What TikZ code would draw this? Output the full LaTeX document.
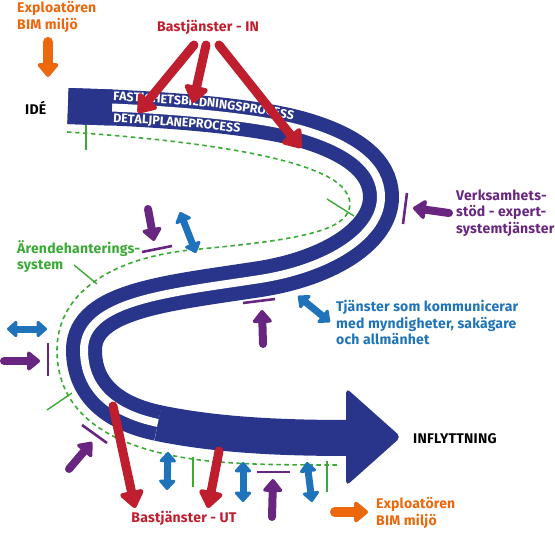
\documentclass[tikz,border=0pt]{standalone}
\usepackage{fontspec}
\setmainfont{Fira Sans}
\usetikzlibrary{arrows.meta,decorations.text}

\definecolor{bandblue}{RGB}{41,53,138}
\definecolor{bastred}{RGB}{190,30,45}
\definecolor{stodpurple}{RGB}{104,38,128}
\definecolor{kommblue}{RGB}{30,115,186}
\definecolor{arendegreen}{RGB}{58,170,53}
\definecolor{exporange}{RGB}{236,104,12}

\tikzset{
  band/.style={draw=bandblue, line width=14pt, double=white, double distance=8pt},
  bandsolid/.style={draw=bandblue, line width=36pt},
  arendeline/.style={arendegreen, line width=1.6pt, dash pattern=on 4.5pt off 3.5pt},
  arendetick/.style={arendegreen, line width=1.4pt},
  stodbar/.style={stodpurple, line width=2.6pt},
  redarrow/.style={bastred, line width=9pt, line cap=round, -{Triangle[round,length=19pt,width=27pt]}},
  stodarrow/.style={stodpurple, line width=8pt, line cap=round, -{Triangle[round,length=14pt,width=22pt]}},
  kommarrow/.style={kommblue, line width=7pt, {Triangle[round,length=11pt,width=19pt]}-{Triangle[round,length=11pt,width=19pt]}},
  exparrow/.style={exporange, line width=10pt, line cap=round, -{Triangle[round,length=15pt,width=24pt]}},
  lbl/.style={font=\bfseries\fontsize{14}{16.5}\selectfont\addfontfeatures{LetterSpace=1.5}, align=left, inner sep=0pt},
}

\begin{document}
\begin{tikzpicture}[x=1pt,y=-1pt]
\useasboundingbox (0,0) rectangle (555,546);

% aerendehanteringssystem
\draw[arendeline] (67,132) .. controls (190,140) and (290,155) .. (330,178)
  .. controls (355,192) and (358,215) .. (330,227)
  .. controls (300,240) and (240,245) .. (190,250)
  .. controls (100,260) and (57,300) .. (57,350)
  .. controls (57,420) and (120,450) .. (200,460)
  .. controls (240,465) and (290,465) .. (340,465);
\foreach \p/\q in {{(86,118)}/{(86,150)}, {(327,199)}/{(354,216)}, {(74,265)}/{(97,284)},
                   {(47,410)}/{(72,393)}, {(193,457)}/{(193,487)}, {(327,461)}/{(327,492)}} {
\draw[arendetick] \p -- \q;
}

% processes
\draw[band] (68,106) -- (112,107.5) .. controls (190,111) and (260,118) .. (300,129)
  .. controls (350,143) and (381,165) .. (381,197)
  .. controls (381,235) and (330,268) .. (260,279)
  .. controls (170,293) and (84,300) .. (84,350)
  .. controls (84,395) and (120,415) .. (158,423);
\draw[bandsolid] (68,106) -- (112,107.5);
\draw[bandsolid] (158,423) .. controls (220,436) and (290,438) .. (350,438);
\fill[bandblue, rounded corners=5pt] (346,388) -- (401,437) -- (346,486) -- cycle;

\path[decorate, decoration={text along path, text color=white,
  text={|\bfseries\fontsize{12.5}{13}\selectfont|FASTIGHETSBILDNINGSPROCESS}}]
  (113,100.5) .. controls (190,104) and (260,111) .. (300,122) -- (345,139);
\path[decorate, decoration={text along path, text color=white,
  text={|\bfseries\fontsize{12.5}{13}\selectfont|DETALJPLANEPROCESS}}]
  (113,122.5) .. controls (190,126) and (260,133) .. (300,144) -- (345,160);

% bastjanster
\foreach \p/\q in {{(194,45)}/{(138,113)}, {(206,45)}/{(193,103)}, {(219,45)}/{(301,148)},
                   {(113,406)}/{(135,508)}, {(219,451)}/{(208,508)}} {
\draw[redarrow] \p -- \q;
}

% verksamhetsstod
\foreach \p/\q in {{(407,193)}/{(403,224)}, {(142,252)}/{(172,246)}, {(243,303)}/{(275,299)},
                   {(48,343)}/{(48,376)}, {(82,425)}/{(107,443)}, {(257,472)}/{(290,472)}} {
\draw[stodbar] \p -- \q;
}
\foreach \p/\q in {{(449,213)}/{(413,208)}, {(148,209)}/{(154,241)}, {(263,344)}/{(262,310)},
                   {(4,361)}/{(40,361)}, {(69,469)}/{(92,442)}, {(272,517)}/{(273,479)}} {
\draw[stodarrow] \p -- \q;
}

% kommunikation
\foreach \p/\q in {{(180,212)}/{(196,253)}, {(7,329)}/{(47,329)}, {(298,296)}/{(330,322)},
                   {(168,452)}/{(167,490)}, {(243,462)}/{(243,502)}, {(307,462)}/{(312,502)}} {
\draw[kommarrow] \p -- \q;
}

% exploatoren
\draw[exparrow] (48,42) -- (48,77);
\draw[exparrow] (335,512) -- (368,512);

% labels
\node[lbl, text=exporange, anchor=north west] (exptop) at (17,1.5) {Exploatören\\BIM miljö};
\node[lbl, text=exporange, anchor=north west] (expbot) at (376,497.5) {Exploatören\\BIM miljö};
\node[lbl, text=bastred, anchor=base] (bastin) at (208,31.7) {Bastjänster - IN};
\node[lbl, text=bastred, anchor=base] (bastut) at (184,522) {Bastjänster - UT};
\node[lbl, anchor=base west] (ide) at (25,114) {IDÉ};
\node[lbl, anchor=base west] (inflytt) at (413,443) {INFLYTTNING};
\node[lbl, text=stodpurple, anchor=north west] (stod) at (456,189.5) {Verksamhets-\\stöd - expert-\\systemtjänster};
\node[lbl, text=arendegreen, anchor=north west] (arende) at (17,240) {Ärendehanterings-\\system};
\node[lbl, text=kommblue, anchor=north west] (komm) at (336,300) {Tjänster som kommunicerar\\med myndigheter, sakägare\\och allmänhet};
\end{tikzpicture}
\end{document}
